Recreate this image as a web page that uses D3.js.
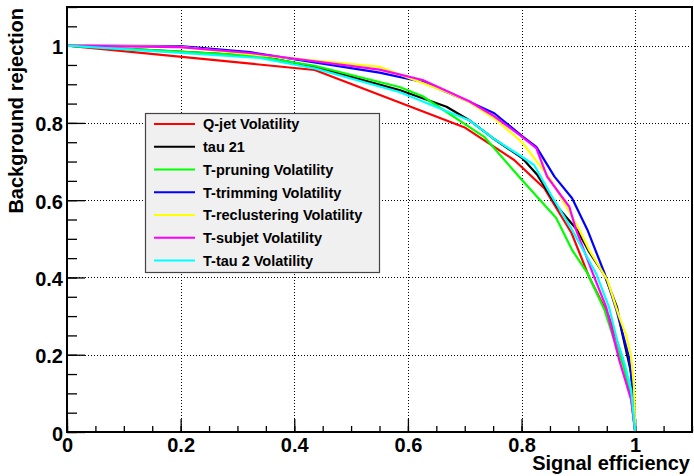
<!DOCTYPE html>
<html>
<head>
<meta charset="utf-8">
<script src="https://cdn.jsdelivr.net/npm/d3@7"></script>
<style>
  body { margin: 0; background: #fff; }
  text { font-family: "Liberation Sans", Arial, sans-serif; font-weight: bold; }
</style>
</head>
<body>
<div id="chart"></div>
<script>
// ROC curves: [signal efficiency, background rejection]
const qjet = [[0,1],[0.436,0.937],[0.699,0.789],[0.787,0.704],[0.840,0.631],[0.888,0.515],[0.919,0.401],[0.954,0.298],[0.977,0.194],[0.993,0.091],[1,0]];
const tau21 = [[0,1],[0.339,0.973],[0.436,0.945],[0.585,0.885],[0.668,0.842],[0.708,0.807],[0.749,0.761],[0.801,0.709],[0.828,0.665],[0.863,0.583],[0.898,0.523],[0.919,0.466],[0.946,0.406],[0.968,0.323],[0.977,0.256],[0.993,0.153],[1,0]];
const tPruning = [[0,1],[0.322,0.975],[0.436,0.948],[0.585,0.893],[0.626,0.869],[0.735,0.763],[0.796,0.660],[0.861,0.554],[0.889,0.471],[0.916,0.411],[0.946,0.316],[0.963,0.238],[0.979,0.173],[0.991,0.109],[1,0]];
const tTrimming = [[0,1],[0.199,0.999],[0.322,0.983],[0.550,0.930],[0.626,0.906],[0.708,0.855],[0.752,0.825],[0.801,0.766],[0.826,0.738],[0.858,0.661],[0.889,0.605],[0.916,0.523],[0.946,0.411],[0.967,0.316],[0.981,0.238],[0.989,0.194],[0.998,0.083],[1,0]];
const tReclustering = [[0,1],[0.199,0.997],[0.322,0.978],[0.550,0.945],[0.668,0.880],[0.708,0.854],[0.756,0.807],[0.801,0.750],[0.852,0.652],[0.879,0.583],[0.902,0.523],[0.919,0.471],[0.951,0.393],[0.972,0.298],[0.984,0.251],[0.993,0.194],[0.998,0.116],[1,0]];
const tSubjet = [[0,1],[0.199,0.996],[0.322,0.981],[0.550,0.938],[0.626,0.911],[0.708,0.856],[0.749,0.820],[0.801,0.764],[0.826,0.735],[0.845,0.661],[0.884,0.583],[0.896,0.523],[0.928,0.401],[0.949,0.323],[0.963,0.238],[0.972,0.186],[0.993,0.083],[1,0]];
const tTau2 = [[0,1],[0.339,0.968],[0.436,0.941],[0.585,0.880],[0.708,0.807],[0.752,0.758],[0.796,0.717],[0.822,0.691],[0.852,0.613],[0.889,0.523],[0.931,0.411],[0.954,0.323],[0.968,0.238],[0.982,0.173],[0.993,0.109],[1,0]];

const seriesNames = ["Q-jet Volatility", "tau 21", "T-pruning Volatility", "T-trimming Volatility",
                     "T-reclustering Volatility", "T-subjet Volatility", "T-tau 2 Volatility"];
const seriesData = [qjet, tau21, tPruning, tTrimming, tReclustering, tSubjet, tTau2];
const colors = ["#ff0000", "#000000", "#00ff00", "#0000ff", "#ffff00", "#ff00ff", "#00ffff"];

const majorTicks = [0, 0.2, 0.4, 0.6, 0.8, 1];
const minorTicks = d3.range(0, 23).map(i => i * 0.05);
const tickLabels = ["0", "0.2", "0.4", "0.6", "0.8", "1"];

const W = 694, H = 476;
const margin = {top: 7, right: 2, bottom: 44, left: 67},
    width = W - margin.left - margin.right,
    height = H - margin.top - margin.bottom;

const svgRoot = d3.select("#chart").append("svg")
    .attr("width", W)
    .attr("height", H);

svgRoot.append("rect").attr("width", W).attr("height", H).attr("fill", "#fff");

const svg = svgRoot.append("g")
    .attr("transform", `translate(${margin.left},${margin.top})`);

const x = d3.scaleLinear().domain([0, 1.1]).range([0, width]);
const y = d3.scaleLinear().domain([0, 1.1]).range([height, 0]);

// dotted grid
const grid = svg.append("g").attr("stroke", "#000").attr("stroke-width", 1)
    .attr("stroke-dasharray", "1,2").attr("shape-rendering", "crispEdges");
grid.selectAll(".vg").data(majorTicks.slice(1)).join("line")
    .attr("x1", d => Math.round(x(d)) + 0.5).attr("x2", d => Math.round(x(d)) + 0.5)
    .attr("y1", 0).attr("y2", height);
grid.selectAll(".hg").data(majorTicks.slice(1)).join("line")
    .attr("y1", d => Math.round(y(d)) + 0.5).attr("y2", d => Math.round(y(d)) + 0.5)
    .attr("x1", 0).attr("x2", width);

// minor ticks
svg.append("g")
    .attr("transform", `translate(0,${height})`)
    .call(d3.axisBottom(x).tickValues(minorTicks).tickSize(-6).tickFormat(""))
    .call(g => g.select(".domain").remove());
svg.append("g")
    .call(d3.axisLeft(y).tickValues(minorTicks).tickSize(-10).tickFormat(""))
    .call(g => g.select(".domain").remove());

// major ticks + labels
const xAxis = svg.append("g")
    .attr("transform", `translate(0,${height})`)
    .call(d3.axisBottom(x).tickValues(majorTicks).tickSize(-13).tickPadding(6)
        .tickFormat((d, i) => tickLabels[i]));
xAxis.select(".domain").remove();
xAxis.selectAll("text").attr("font-size", 20).attr("font-family", null).attr("fill", "#000");

const yAxis = svg.append("g")
    .call(d3.axisLeft(y).tickValues(majorTicks).tickSize(-18).tickPadding(4)
        .tickFormat((d, i) => tickLabels[i]));
yAxis.select(".domain").remove();
yAxis.selectAll("text").attr("font-size", 20).attr("font-family", null).attr("dy", "0.4em").attr("fill", "#000");

svg.selectAll(".tick line").attr("stroke", "#000").attr("stroke-width", 1.3);

// curves
const line = d3.line().x(d => x(d[0])).y(d => y(d[1]));
svg.append("g").selectAll("path")
    .data(seriesData)
    .join("path")
    .attr("fill", "none")
    .attr("stroke", (d, i) => colors[i])
    .attr("stroke-width", 2.2)
    .attr("stroke-linejoin", "round")
    .attr("d", line);

// frame
svg.append("rect")
    .attr("x", 0).attr("y", 0).attr("width", width).attr("height", height)
    .attr("fill", "none").attr("stroke", "#000").attr("stroke-width", 2);

// axis titles
svgRoot.append("text")
    .attr("x", 690).attr("y", 470)
    .attr("text-anchor", "end").attr("font-size", 20)
    .text("Signal efficiency");
svgRoot.append("text")
    .attr("transform", "translate(22.5,8) rotate(-90)")
    .attr("text-anchor", "end").attr("font-size", 20)
    .text("Background rejection");

// legend
const legend = svgRoot.append("g");
legend.append("rect")
    .attr("x", 145.5).attr("y", 113.5).attr("width", 234).attr("height", 159)
    .attr("fill", "#f0f0f0").attr("stroke", "#444").attr("stroke-width", 1.2);
const rows = legend.selectAll(".row").data(seriesNames).join("g")
    .attr("transform", (d, i) => `translate(0,${124 + i * 22.75})`);
rows.append("line")
    .attr("x1", 154).attr("x2", 195)
    .attr("stroke", (d, i) => colors[i]).attr("stroke-width", 2.2);
rows.append("text")
    .attr("x", 203).attr("y", 5.3)
    .attr("font-size", 14.5)
    .text(d => d);
</script>
</body>
</html>
